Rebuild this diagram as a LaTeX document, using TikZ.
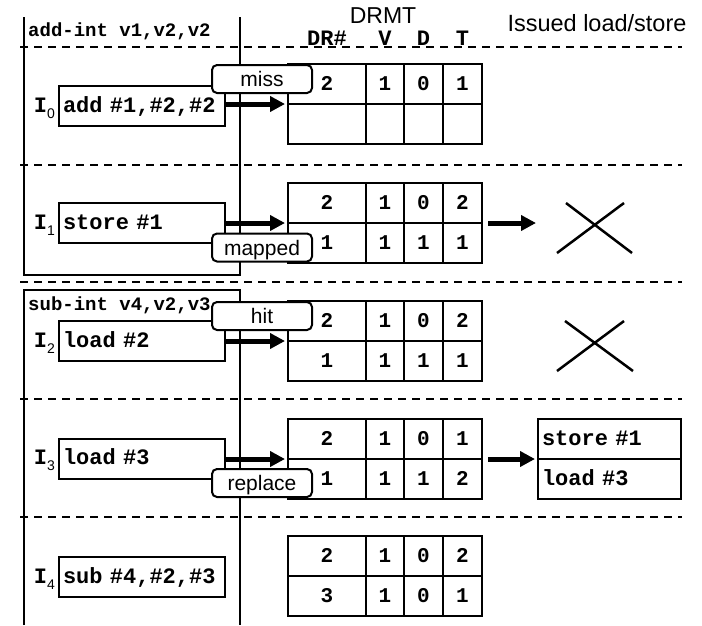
\documentclass[tikz,border=0pt]{standalone}
\usepackage{fontspec}
\setsansfont{Liberation Sans}
\setmonofont{Liberation Mono}
\usetikzlibrary{arrows.meta}

% one DRMT row: name prefix, row centre y, then the four fields
\newcommand\drmtrow[6]{%
  \node[cell,minimum width=78pt] (#1-a) at (327,#2) {#3};
  \node[cell,minimum width=38pt] (#1-b) at (385,#2) {#4};
  \node[cell,minimum width=39pt] (#1-c) at (423.5,#2) {#5};
  \node[cell,minimum width=39pt] (#1-d) at (462.5,#2) {#6};
}
% index label I_n in front of an instruction box
\newcommand\ilabel[2]{%
  \node[anchor=base east,inner sep=0pt,xshift=-3pt,
        font=\ttfamily\bfseries\fontsize{22}{24}\selectfont]
        (l#1) at (#2.base west)
        {I\raisebox{-6pt}{\sffamily\mdseries\fontsize{14}{14}\selectfont #1}};
}

\begin{document}
\begin{tikzpicture}[x=1pt,y=-1pt,
  frameline/.style={line width=2pt},
  sepline/.style={line width=1.5pt,dash pattern=on 8pt off 6pt},
  instr/.style={draw,line width=2pt,anchor=west,minimum width=166pt,
    minimum height=40pt,text width=158pt,align=left,inner sep=4pt,
    text height=14pt,text depth=2pt,
    font=\ttfamily\bfseries\fontsize{22}{24}\selectfont},
  cell/.style={draw,line width=2.5pt,minimum height=40pt,inner sep=0pt,
    outer sep=0pt,text height=13pt,text depth=0pt,
    font=\ttfamily\bfseries\fontsize{21}{24}\selectfont},
  issued/.style={draw,line width=2.5pt,minimum height=40pt,minimum width=143pt,
    text width=135pt,align=left,inner sep=4pt,outer sep=0pt,
    text height=14pt,text depth=2pt,
    font=\ttfamily\bfseries\fontsize{22}{24}\selectfont},
  tag/.style={draw,fill=white,line width=2pt,rounded corners=5pt,
    minimum width=100pt,minimum height=28pt,inner sep=0pt,
    text height=17pt,text depth=2pt,
    font=\sffamily\fontsize{21}{24}\selectfont},
  colhead/.style={anchor=base,inner sep=0pt,
    font=\ttfamily\bfseries\fontsize{22}{24}\selectfont},
  vcode/.style={anchor=base west,inner sep=0pt,
    font=\ttfamily\bfseries\fontsize{19}{22}\selectfont},
  bigarrow/.style={line width=5pt,-{Triangle[length=15pt,width=15pt]}},
  xmark/.style={line width=2.5pt}]

\useasboundingbox (0,0) rectangle (702,625);

% frames of the two vector instructions
\draw[frameline] (24,17) -- (24,275) -- (240,275) -- (240,17);
\draw[frameline] (24,625) -- (24,290) -- (240,290) -- (240,625);

% dashed separators
\foreach \yy in {47,165,282,399,517}
  \draw[sepline] (20,\yy) -- (682,\yy);

% headings
\node[vcode] (v0) at (28,36) {add-int v1,v2,v2};
\node[vcode] (v1) at (28,310) {sub-int v4,v2,v3};
\node[anchor=base,inner sep=0pt,font=\sffamily\fontsize{23}{26}\selectfont]
  (drmt) at (383,23) {DRMT};
\node[anchor=base,inner sep=0pt,font=\sffamily\fontsize{23.5}{26}\selectfont]
  (iss) at (597,31) {Issued load/store};
\node[colhead] (hdr) at (327,45) {DR\#};
\node[colhead] (hv) at (385,45) {V};
\node[colhead] (hd) at (423.5,45) {D};
\node[colhead] (ht) at (462.5,45) {T};

% instructions
\node[instr] (i0) at (58,106) {add \#1,\#2,\#2};
\node[instr] (i1) at (58,223) {store \#1};
\node[instr] (i2) at (58,341) {load \#2};
\node[instr] (i3) at (58,458.5) {load \#3};
\node[instr] (i4) at (58,577) {sub \#4,\#2,\#3};
\ilabel{0}{i0}
\ilabel{1}{i1}
\ilabel{2}{i2}
\ilabel{3}{i3}
\ilabel{4}{i4}

% DRMT states
\drmtrow{t0a}{84}{2}{1}{0}{1}
\drmtrow{t0b}{124}{}{}{}{}
\drmtrow{t1a}{203}{2}{1}{0}{2}
\drmtrow{t1b}{243}{1}{1}{1}{1}
\drmtrow{t2a}{321}{2}{1}{0}{2}
\drmtrow{t2b}{361}{1}{1}{1}{1}
\drmtrow{t3a}{439}{2}{1}{0}{1}
\drmtrow{t3b}{479}{1}{1}{1}{2}
\drmtrow{t4a}{556}{2}{1}{0}{2}
\drmtrow{t4b}{596}{3}{1}{0}{1}

% instruction -> DRMT
\draw[bigarrow,shorten >=3pt] (i0.east |- t0a-a.south west) -- (t0a-a.south west);
\draw[bigarrow,shorten >=3pt] (i1.east |- t1a-a.south west) -- (t1a-a.south west);
\draw[bigarrow,shorten >=3pt] (i2.east |- t2a-a.south west) -- (t2a-a.south west);
\draw[bigarrow,shorten >=3pt] (i3.east |- t3a-a.south west) -- (t3a-a.south west);

% issued memory operations
\node[issued] (q0) at (609.5,439) {store \#1};
\node[issued] (q1) at (609.5,479) {load \#3};
\coordinate (n1) at (536,223);
\draw[bigarrow,shorten <=6pt] (t1a-d.south east) -- (n1);
\draw[bigarrow,shorten <=6pt,shorten >=3pt] (t3a-d.south east) -- (q0.south west);

% nothing issued
\draw[xmark] (566,203) -- (632,253) (624,203) -- (557,253);
\draw[xmark] (565,321) -- (633,371) (624,321) -- (557,371);

% lookup outcomes
\node[tag] (k0) at (262,79) {miss};
\node[tag] (k1) at (262,247.5) {mapped};
\node[tag] (k2) at (262,316) {hit};
\node[tag] (k3) at (262,483) {replace};
\end{tikzpicture}
\end{document}
